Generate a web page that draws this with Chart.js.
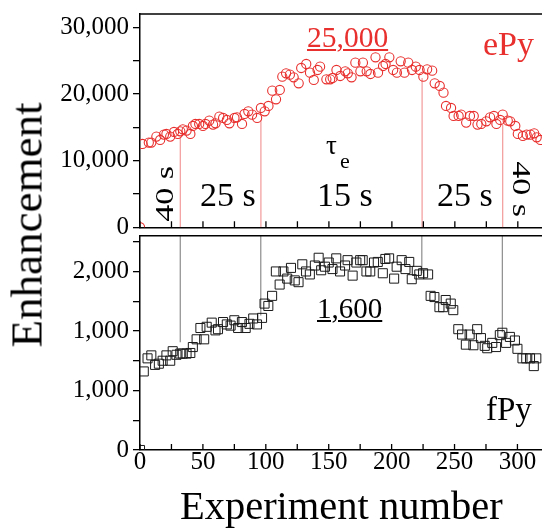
<!DOCTYPE html>
<html>
<head>
<meta charset="utf-8">
<script src="https://cdn.jsdelivr.net/npm/chart.js@4.4.1/dist/chart.umd.min.js"></script>
<style>
  html, body { margin: 0; padding: 0; background: #fff; overflow: hidden; width: 542px; height: 528px; }
  #wrap { position: relative; width: 550px; height: 528px; font-family: "Liberation Serif", "Times New Roman", serif; }
  #wrap canvas { position: absolute; left: 0; }
  .lbl { position: absolute; white-space: nowrap; line-height: 1; color: #000; }
  .red { color: #e8302e; }
  .ul { text-decoration: underline; text-decoration-thickness: 2px; text-underline-offset: 2px; }
</style>
</head>
<body>
<div id="wrap">
  <canvas id="topChart" width="550" height="235" style="top:0"></canvas>
  <canvas id="botChart" width="550" height="300" style="top:228px"></canvas>

  <!-- Beschriftungen -->
  <div class="lbl" style="left:27px;top:225px;font-size:45px;transform:translate(-50%,-50%) rotate(-90deg)">Enhancement</div>
  <div class="lbl red ul" style="left:307px;top:23px;font-size:29.5px">25,000</div>
  <div class="lbl red" style="left:483px;top:27px;font-size:34px">ePy</div>
  <div class="lbl" style="left:326px;top:132px;font-size:27px">τ</div>
  <div class="lbl" style="left:340px;top:150px;font-size:22px">e</div>
  <div class="lbl" style="left:165px;top:194px;font-size:34px;transform:translate(-50%,-50%) rotate(-90deg) scale(1,0.72)">40 s</div>
  <div class="lbl" style="left:200px;top:178px;font-size:34px">25 s</div>
  <div class="lbl" style="left:317px;top:178px;font-size:34px">15 s</div>
  <div class="lbl" style="left:437px;top:178px;font-size:34px">25 s</div>
  <div class="lbl" style="left:521px;top:189px;font-size:34px;transform:translate(-50%,-50%) rotate(90deg) scale(1,0.72)">40 s</div>
  <div class="lbl ul" style="left:317px;top:294px;font-size:29px">1,600</div>
  <div class="lbl" style="left:486px;top:393px;font-size:33px">fPy</div>
</div>

<script>
// Daten
const ePyX = [0, 2, 7, 9, 13, 16, 19, 21, 24, 27, 30, 32, 34, 37, 40, 42, 44, 47, 50, 52, 55,
  58, 60, 63, 66, 69, 71, 75, 77, 81, 83, 86, 89, 93, 96, 99, 102, 105, 108, 111, 113,
  116, 119, 122, 126, 128, 132, 135, 138, 141, 143, 148, 151, 153, 156, 159, 163, 165, 168, 171, 175,
  177, 180, 183, 187, 189, 193, 195, 198, 201, 204, 207, 210, 213, 216, 219, 222, 225, 228, 232, 234,
  238, 241, 243, 247, 249, 253, 255, 259, 262, 265, 268, 271, 275, 278, 281, 283, 286, 288, 292, 294,
  298, 300, 304, 307, 310, 313, 315, 318];
const ePyY = [0, 12500, 12700, 12700, 13600, 13100, 13900, 14000, 13600, 14300, 14000,
  14400, 14700, 14500, 14000, 15200, 15500, 15500, 15200, 15500, 16000,
  15400, 15600, 16600, 16400, 16100, 15600, 16400, 16500, 15500, 17000,
  17400, 16900, 16400, 17900, 17400, 18200, 20500, 19200, 20600, 22600,
  23100, 22900, 22500, 21600, 23900, 24500, 23200, 22100, 23600, 24100,
  22200, 22200, 22400, 23600, 22700, 23400, 23100, 22500, 24700, 23400,
  24700, 23400, 23000, 25500, 23200, 24200, 24500, 25500, 23600, 23200,
  24900, 23200, 24700, 23600, 24100, 23600, 22600, 23700, 23500, 21600,
  21200, 20200, 18200, 17900, 16700, 16700, 16900, 15700, 16700, 16700,
  15400, 15500, 15900, 16500, 16700, 15500, 16100, 16900, 16000, 15900,
  15200, 14000, 13700, 13900, 13900, 14100, 13500, 13100];

const fPyX = [0, 3, 6, 9, 12, 15, 18, 21, 24, 26, 29, 32, 34, 37, 40, 42, 45, 48, 51, 53, 57,
  60, 62, 66, 69, 72, 75, 78, 81, 84, 87, 90, 93, 97, 99, 102, 105, 108, 111, 114, 117,
  120, 123, 126, 129, 132, 135, 139, 142, 144, 147, 150, 153, 156, 159, 163, 165, 169, 172, 175, 177,
  180, 183, 186, 189, 193, 195, 198, 202, 204, 208, 211, 214, 216, 220, 222, 225, 229, 231, 234, 238,
  241, 243, 247, 249, 253, 256, 259, 262, 265, 268, 271, 274, 276, 280, 283, 286, 288, 291, 294, 298,
  300, 304, 307, 310, 313, 315];
const fPyY = [0, 1320, 1540, 1590, 1430, 1450, 1500, 1590, 1500, 1660, 1600,
  1620, 1620, 1620, 1630, 1730, 1860, 2050, 1860, 2070, 2140,
  2010, 2030, 2150, 2110, 2090, 2180, 2050, 2150, 2050, 2120,
  2210, 2110, 2220, 2460, 2420, 2590, 3000, 2780, 3000, 2880,
  3060, 2850, 2820, 3120, 3000, 2950, 3100, 3230, 3020, 3080,
  3150, 3040, 3220, 3000, 3100, 3190, 2930, 3150, 3190, 3190,
  3000, 3000, 3150, 3160, 2970, 3210, 3220, 2880, 3080, 3190,
  3040, 3160, 2870, 3010, 2950, 2970, 2950, 2590, 2570, 2400,
  2400, 2520, 2460, 2350, 2030, 1940, 1770, 1940, 1760, 2030,
  1880, 1750, 1710, 1800, 1730, 1930, 1970, 1800, 1900, 1840,
  1700, 1540, 1540, 1540, 1410, 1540];

// Grenzen zwischen den tau_e-Abschnitten und Höhe der Markierungslinien
const boundaries = [32, 96, 224, 288];
const ePyDropTop = [13600, 16100, 22400, 15400];
const fPyDropBottom = [1810, 2260, 2970, 1980];

// Achsen-Ticks
const xTicks = [0, 25, 50, 75, 100, 125, 150, 175, 200, 225, 250, 275, 300];
const xLabelTicks = [0, 50, 100, 150, 200, 250, 300];
const ePyTicks = [0, 5000, 10000, 15000, 20000, 25000, 30000];
const ePyLabelTicks = [0, 10000, 20000, 30000];
const fPyTicks = [0, 500, 1000, 1500, 2000, 2500, 3000, 3500];
const fPyLabelTicks = [0, 1000, 2000, 3000];
const fPyLabelTexts = ['0', '1,000', '1,000', '2,000'];

const RED = '#e8302e';

Chart.defaults.font.family = 'Liberation Serif';
Chart.defaults.color = '#000';

// Rahmen oben + nach innen zeigende x-Ticks
const framePlugin = {
    id: 'frame',
    afterDraw(chart) {
        const { ctx, chartArea: a, scales } = chart;
        ctx.save();
        ctx.strokeStyle = '#000';
        ctx.lineWidth = 1.5;
        ctx.beginPath();
        ctx.moveTo(a.left, a.top);
        ctx.lineTo(a.right + 10, a.top);
        ctx.stroke();
        ctx.lineWidth = 1.3;
        ctx.beginPath();
        scales.x.ticks.forEach(t => {
            const px = scales.x.getPixelForValue(t.value);
            ctx.moveTo(px, a.bottom);
            ctx.lineTo(px, a.bottom - 6);
        });
        ctx.stroke();
        ctx.restore();
    }
};

function dropLines(tops, bottoms, color) {
    return boundaries.map((b, i) => ({
        showLine: true,
        data: [{ x: b, y: bottoms[i] }, { x: b, y: tops[i] }],
        borderColor: color,
        borderWidth: 1.2,
        pointRadius: 0
    }));
}

function xScale(showLabels, height) {
    return {
        type: 'linear',
        min: 0,
        max: 320,
        afterBuildTicks: s => { s.ticks = xTicks.map(v => ({ value: v })); },
        afterFit: s => { s.height = height; },
        grid: { display: false },
        border: { color: '#000', width: 1.5 },
        ticks: {
            display: showLabels,
            autoSkip: false,
            maxRotation: 0,
            padding: -8,
            font: { size: 25, lineHeight: 1 },
            callback: v => (xLabelTicks.includes(v) ? String(v) : '')
        },
        title: {
            display: showLabels,
            text: 'Experiment number',
            font: { size: 40.5, lineHeight: 1 },
            padding: { top: 0, bottom: -1 }
        }
    };
}

function yScale(max, tickList, labelFn) {
    return {
        min: 0,
        max: max,
        afterBuildTicks: s => { s.ticks = tickList.map(v => ({ value: v })); },
        afterFit: s => { s.width = 140; },
        grid: { drawOnChartArea: false, drawTicks: true, tickLength: 7, color: '#000', lineWidth: 1.3 },
        border: { color: '#000', width: 1.5 },
        ticks: { autoSkip: false, padding: 4, font: { size: 25, lineHeight: 0.3 }, callback: labelFn }
    };
}

const baseOptions = {
    responsive: false,
    animation: false,
    events: [],
    plugins: { legend: { display: false }, tooltip: { enabled: false } }
};

// Oberes Panel: ePy
new Chart(document.getElementById('topChart'), {
    type: 'scatter',
    data: {
        datasets: [{
            data: ePyX.map((x, i) => ({ x: x, y: ePyY[i] })),
            pointStyle: 'circle',
            pointRadius: 4.6,
            borderColor: RED,
            backgroundColor: 'rgba(0,0,0,0)',
            borderWidth: 1.1
        }, ...dropLines(ePyDropTop, [0, 0, 0, 0], '#f39a9a')]
    },
    options: {
        ...baseOptions,
        layout: { padding: { top: 14, right: 7, left: 0, bottom: 0 } },
        scales: {
            x: xScale(false, 5),
            y: yScale(32000, ePyTicks, v => (ePyLabelTicks.includes(v) ? v.toLocaleString('en-US') : ''))
        }
    },
    plugins: [framePlugin]
});

// Unteres Panel: fPy
new Chart(document.getElementById('botChart'), {
    type: 'scatter',
    data: {
        datasets: [{
            data: fPyX.map((x, i) => ({ x: x, y: fPyY[i] })),
            pointStyle: 'rect',
            pointRadius: 6.4,
            borderColor: '#1a1a1a',
            backgroundColor: 'rgba(0,0,0,0)',
            borderWidth: 1
        }, ...dropLines([3600, 3600, 3600, 3600], fPyDropBottom, '#8c8c8c')]
    },
    options: {
        ...baseOptions,
        layout: { padding: { top: 4, right: 7, left: 0, bottom: 0 } },
        scales: {
            x: xScale(true, 78),
            y: yScale(3600, fPyTicks, v => {
                const k = fPyLabelTicks.indexOf(v);
                return k >= 0 ? fPyLabelTexts[k] : '';
            })
        }
    },
    plugins: [framePlugin]
});
</script>
</body>
</html>
